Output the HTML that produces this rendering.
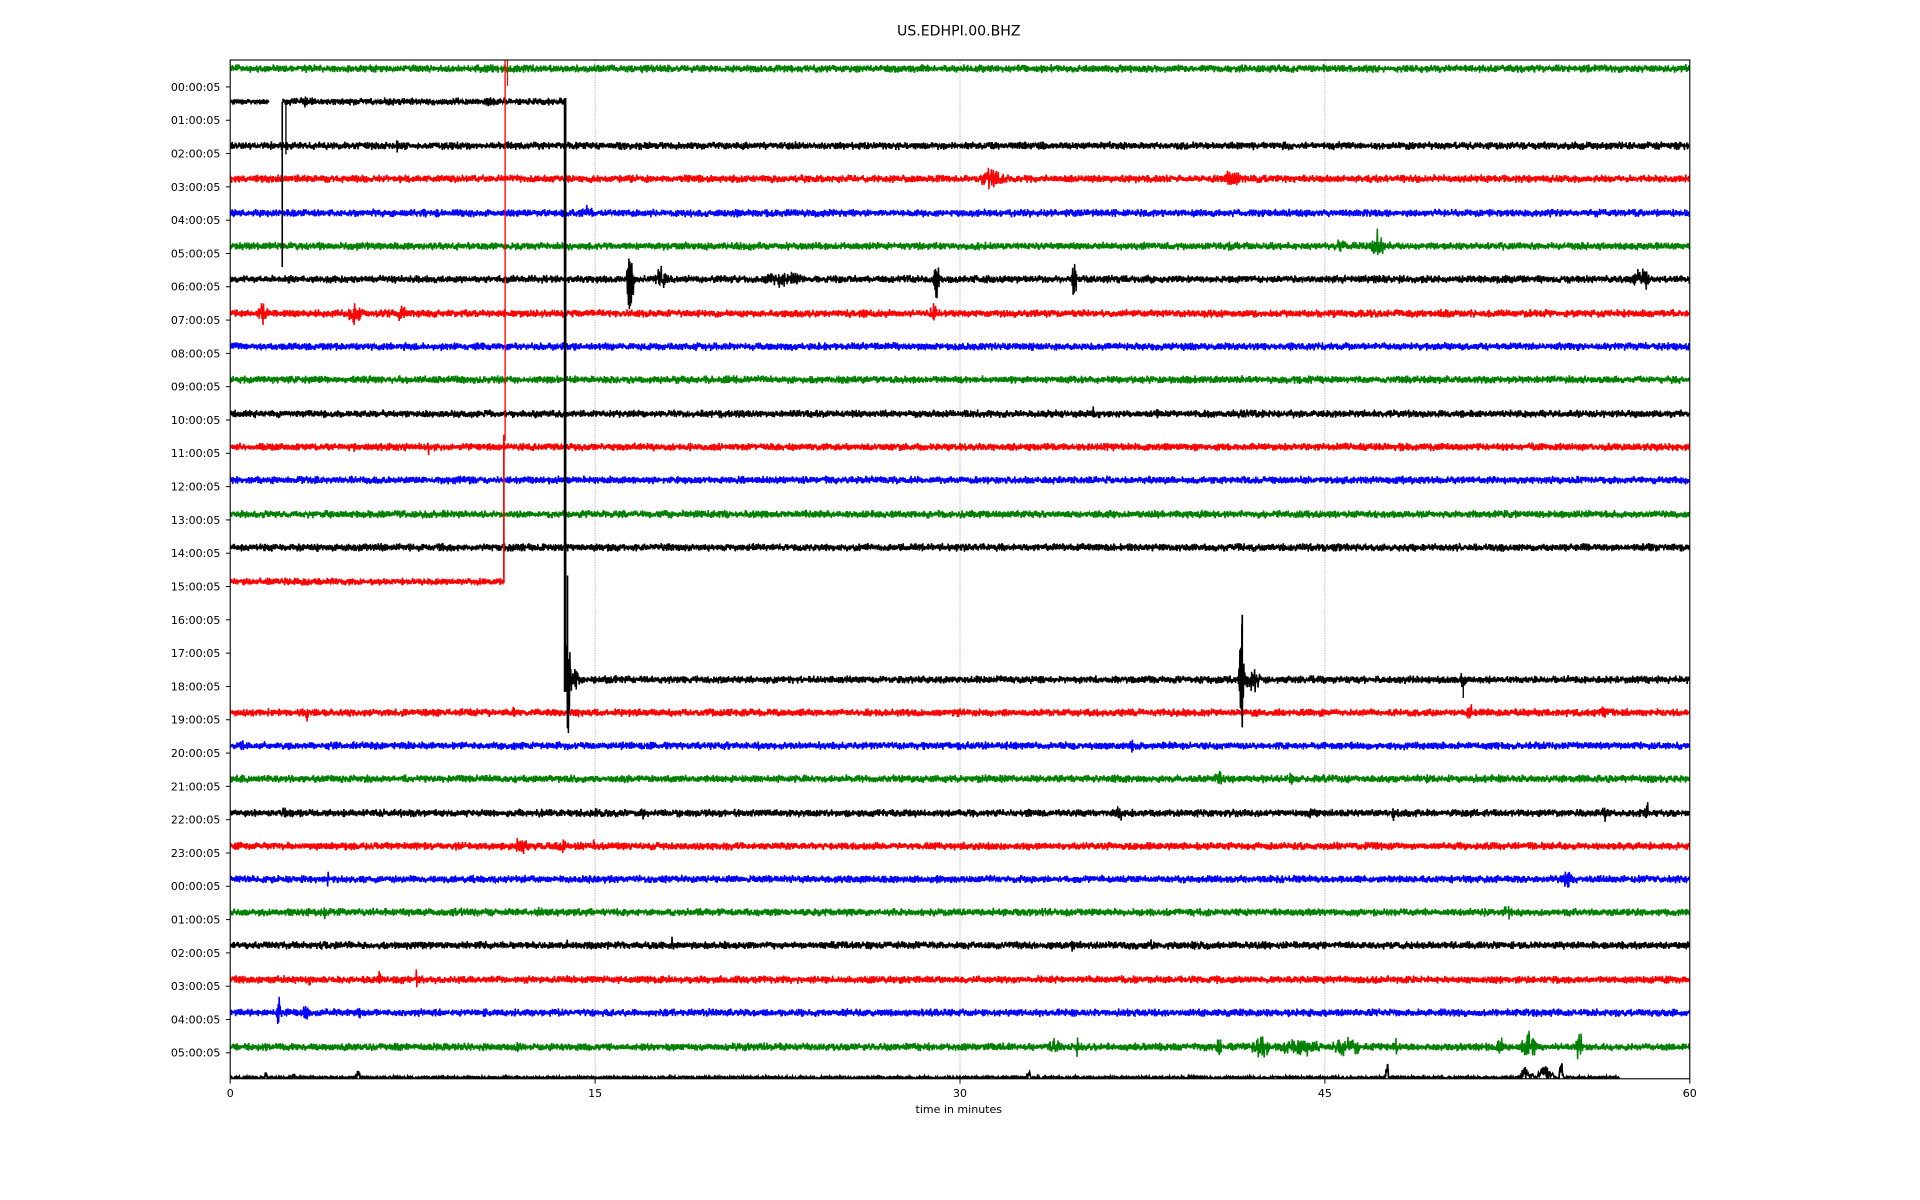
<!DOCTYPE html>
<html><head><meta charset="utf-8"><style>
html,body{margin:0;padding:0;background:#fff;width:1920px;height:1200px;overflow:hidden}
svg{display:block}
text{font-family:"DejaVu Sans","Liberation Sans",sans-serif;fill:#000}
</style></head><body>
<svg id="s" width="1920" height="1200" viewBox="0 0 1568 980" xmlns="http://www.w3.org/2000/svg">
<defs><clipPath id="c"><rect x="188" y="49" width="1192" height="832"/></clipPath></defs>
<text x="783" y="29" font-size="11.5" text-anchor="middle">US.EDHPI.00.BHZ</text>
<g stroke="#999" stroke-width="0.6" stroke-dasharray="1,1">
<line x1="486" y1="49" x2="486" y2="881"/><line x1="784" y1="49" x2="784" y2="881"/><line x1="1082" y1="49" x2="1082" y2="881"/>
</g>
<g id="tr" clip-path="url(#c)" fill="none" stroke-width="1.25"></g>
<rect x="188" y="49" width="1192" height="832" fill="none" stroke="#000" stroke-width="0.9"/>
<g id="ax" font-size="9"></g>
<text x="783" y="909" font-size="9" text-anchor="middle">time in minutes</text>
</svg>
<script>
var seed=12345;function r(){seed=(seed*16807)%2147483647;return seed/2147483647;}
var NS="http://www.w3.org/2000/svg";
var tr=document.getElementById('tr'),ax=document.getElementById('ax');
function path(d,col,w){var p=document.createElementNS(NS,'path');p.setAttribute('d',d);p.setAttribute('stroke',col);if(w)p.setAttribute('stroke-width',w);tr.appendChild(p);}
function line(x1,y1,x2,y2,col,w){path('M'+x1+' '+y1+'L'+x2+' '+y2,col,w||1);}
function noise(y,x0,x1,amp,bursts,col){
 var d='';var s=true;var k=0;
 for(var x=x0;x<=x1;x+=0.4){
  var a=amp*(0.75+0.5*r());
  for(var i=0;i<bursts.length;i++){var b=bursts[i];var dx=Math.abs(x-b[0]);var wd=Math.max(b[2]||4,3);if(dx<wd)a=Math.max(a,1.25*b[1]*(1-dx/wd)*(0.5+0.5*r()));}
  var v=r()*a;
  k++;
  var yy=y+(k%2?-1:1)*v;
  d+=(s?'M':'L')+x.toFixed(1)+' '+yy.toFixed(1);s=false;
 }
 path(d,col);
}
var G='#008000',K='#000',R='#f00',B='#00f';
var T=[
[56,G,[[524,7,2]]],
null,
[119,K,[[324,7,2]]],
[146,R,[[810,12,14],[1008,11,12],[630,5,5]]],
[174,B,[[480,8,9],[240,5,3]]],
[201,G,[[1005,5,6],[1125,13,9],[1095,7,9]]],
[228,K,[[515,36,4],[540,12,9],[640,8,28],[765,22,2],[877,22,2],[1340,12,12],[915,5,8]]],
[256,R,[[215,9,9],[290,9,14],[328,9,7],[763,9,9]]],
[283,B,[]],
[310,G,[]],
[338,K,[[893,6,2],[945,5,2]]],
[365,R,[[290,6,2],[350,6,2]]],
[392,B,[]],
[420,G,[]],
[447,K,[]],
null,null,null,null,
[582,R,[[250,9,5],[420,6,2],[472,7,3],[1200,11,4],[1310,7,6]]],
[609,B,[[197,6,4],[925,7,5],[620,5,6],[1148,5,4]]],
[636,G,[[995,7,7],[1055,6,6],[1165,6,3]]],
[664,K,[[233,7,4],[487,6,2],[525,8,2],[915,6,10],[1070,7,2],[1138,7,2],[1310,7,5],[1345,10,3]]],
[691,R,[[425,8,12],[460,6,8],[485,7,2],[905,6,3]]],
[718,B,[[268,7,3],[693,6,2],[1280,8,12]]],
[745,G,[[265,7,3],[378,6,3],[440,7,2],[1232,7,8]]],
[772,K,[[463,6,2],[549,7,2],[876,6,2],[940,7,2]]],
[800,R,[[252,7,2],[310,11,3],[340,8,4],[603,5,2]]],
[827,B,[[228,12,5],[250,11,4],[294,7,2]]],
[855,G,[[422,7,2],[630,6,2],[860,9,9],[880,10,2],[995,11,4],[1030,10,14],[1060,9,28],[1100,9,22],[1140,8,6],[1225,9,6],[1248,15,9],[1290,14,5]]]
];
for(var i=0;i<T.length;i++){if(!T[i])continue;noise(T[i][0],188,1380,3.0,T[i][2],T[i][1]);}
noise(83,188,220,2.0,[],K);
noise(83,231,461,2.8,[[250,5,15],[318,5,10],[400,4,20]],K);
line(230.5,83,230.5,218,K,1.3);line(233.5,83,233.5,126,K,1.1);
line(461.5,80,461.5,565,K,2.2);
noise(475,188,411,2.8,[],R);
line(411.5,355,411.5,476,R,1.4);line(412.5,49,412.5,360,R,1.1);line(414.5,49,414.5,70,R,0.9);
noise(555,463,1380,3.0,[[464,42,4],[470,20,4],[1014,50,3],[1022,12,12],[1195,13,2],[1070,6,2]],K);
line(463.5,470,463.5,567,K,1.3);line(1014.5,502,1014.5,594,K,1.4);line(1195,555,1195,570,K,1.1);
(function(){var d='';var s=true;for(var x=188;x<=1323;x+=0.4){var a=2;var bb=[[217,6,2],[240,6,2],[293,10,3],[840,12,2],[1133,17,2],[1245,11,6],[1262,14,9],[1275,28,2],[1250,8,4]];for(var j=0;j<bb.length;j++){var dx=Math.abs(x-bb[j][0]);if(dx<bb[j][2])a=Math.max(a,bb[j][1]*(1-dx/bb[j][2]));}d+=(s?'M':'L')+x.toFixed(1)+' '+(881-r()*a).toFixed(1);s=false;}path(d,K,1.4);})();
var h=['00','01','02','03','04','05','06','07','08','09','10','11','12','13','14','15','16','17','18','19','20','21','22','23','00','01','02','03','04','05'];
for(var i=0;i<30;i++){var y=71+27.2*i;var l=document.createElementNS(NS,'line');l.setAttribute('x1',184.5);l.setAttribute('x2',188);l.setAttribute('y1',y);l.setAttribute('y2',y);l.setAttribute('stroke','#000');l.setAttribute('stroke-width',0.8);ax.appendChild(l);
var t=document.createElementNS(NS,'text');t.setAttribute('x',180);t.setAttribute('y',y+3.2);t.setAttribute('text-anchor','end');t.textContent=h[i]+':00:05';ax.appendChild(t);}
var xs=[[188,'0'],[486,'15'],[784,'30'],[1082,'45'],[1380,'60']];
for(var i=0;i<5;i++){var x=xs[i][0];var l=document.createElementNS(NS,'line');l.setAttribute('x1',x);l.setAttribute('x2',x);l.setAttribute('y1',881);l.setAttribute('y2',885);l.setAttribute('stroke','#000');l.setAttribute('stroke-width',0.8);ax.appendChild(l);
var t=document.createElementNS(NS,'text');t.setAttribute('x',x);t.setAttribute('y',896);t.setAttribute('text-anchor','middle');t.textContent=xs[i][1];ax.appendChild(t);}
</script>
</body></html>
